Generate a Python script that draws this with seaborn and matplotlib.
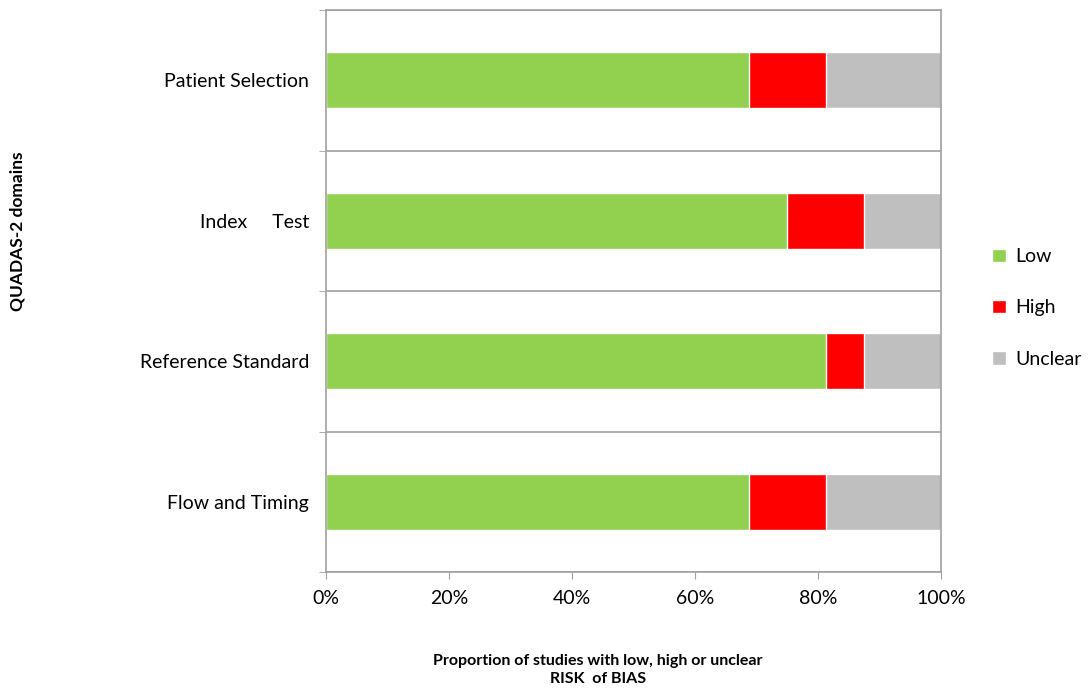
import pandas as pd
import matplotlib.pyplot as plt
import seaborn as sns

domains = ['Patient Selection', 'Index     Test', 'Reference Standard', 'Flow and Timing']
low = [68.75, 75.0, 81.25, 68.75]
high = [12.5, 12.5, 6.25, 12.5]
unclear = [18.75, 12.5, 12.5, 18.75]

df = pd.DataFrame({'domain': domains, 'Low': low, 'High': high, 'Unclear': unclear})
df['low_high'] = df['Low'] + df['High']
df['total'] = df['low_high'] + df['Unclear']

sns.set_style('white')
plt.rcParams['font.family'] = ['Lato', 'DejaVu Sans']
plt.rcParams['text.color'] = 'black'
plt.rcParams['xtick.labelcolor'] = 'black'
plt.rcParams['ytick.labelcolor'] = 'black'

fig = plt.figure(figsize=(10.9, 6.9), dpi=100)
ax = fig.add_axes([0.299, 0.171, 0.5643, 0.8145])

sns.barplot(data=df, y='domain', x='total', color='#BFBFBF', width=0.4, orient='h', ax=ax,
            label='Unclear', saturation=1)
sns.barplot(data=df, y='domain', x='low_high', color='#FF0000', width=0.4, orient='h', ax=ax,
            label='High', saturation=1)
sns.barplot(data=df, y='domain', x='Low', color='#92D050', width=0.4, orient='h', ax=ax,
            label='Low', saturation=1)

handles, labels = ax.get_legend_handles_labels()
if ax.get_legend() is not None:
    ax.get_legend().remove()

ax.set_xlim(0, 100)
ax.set_ylim(3.5, -0.5)
ax.set_xticks([0, 20, 40, 60, 80, 100])
ax.set_xticklabels([f'{v}%' for v in range(0, 101, 20)], fontsize=14)
ax.set_yticks([-0.5, 0.5, 1.5, 2.5, 3.5], minor=True)
ax.tick_params(axis='y', which='major', length=0, labelsize=14, pad=12)
ax.tick_params(axis='y', which='minor', length=5, color='#A0A0A0', direction='out', left=True)
ax.tick_params(axis='x', which='major', length=5, color='#A0A0A0', direction='out', bottom=True, pad=8)
ax.grid(axis='y', which='minor', color='#A0A0A0', linewidth=1.2)
ax.set_axisbelow(True)
for s in ax.spines.values():
    s.set_color('#A0A0A0')
    s.set_linewidth(1.2)

ax.set_ylabel('')
ax.set_xlabel('')
fig.text(18 / 1090, 1 - 231 / 690, 'QUADAS-2 domains', rotation=90, fontsize=12.5, fontweight='bold',
         ha='center', va='center')
fig.text(598 / 1090, 1 - 670 / 690, 'Proportion of studies with low, high or unclear\nRISK  of BIAS',
         fontsize=11.5, fontweight='bold', ha='center', va='center', linespacing=1.4)

order = ['Low', 'High', 'Unclear']
hmap = dict(zip(labels, handles))
fig.legend([hmap[k] for k in order], order, loc='center left', bbox_to_anchor=(992 / 1090, 1 - 308 / 690),
           frameon=False, fontsize=14, handlelength=0.7, handleheight=0.7, handletextpad=0.5,
           labelspacing=1.75, borderaxespad=0, borderpad=0)

fig.savefig('out.png', dpi=100)
